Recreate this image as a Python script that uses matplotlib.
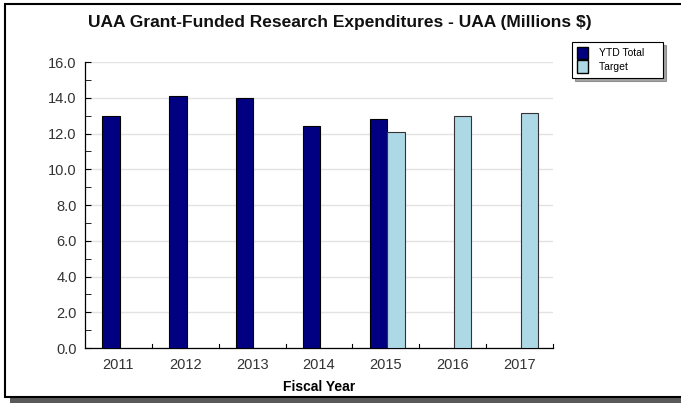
import numpy as np
import matplotlib
matplotlib.use("Agg")
import matplotlib.pyplot as plt
from matplotlib.patches import Rectangle, Patch

# --- data ---
years = ["2011", "2012", "2013", "2014", "2015", "2016", "2017"]
ytd_total = [13.0, 14.1, 14.0, 12.4, 12.8, np.nan, np.nan]
target = [np.nan, np.nan, np.nan, np.nan, 12.1, 13.0, 13.15]
y_ticks = [0, 2, 4, 6, 8, 10, 12, 14, 16]

navy = "#000080"
light_blue = "#ADD8E6"

plt.rcParams["font.family"] = ["Liberation Sans", "DejaVu Sans"]

fig = plt.figure(figsize=(6.81, 4.03), dpi=100)
fig.patch.set_facecolor("white")

# outer frame with a drop shadow at the bottom
fig.patches.append(Rectangle((10 / 681, 0), 1, 6 / 403, transform=fig.transFigure,
                             facecolor="#5a5a5a", edgecolor="none", zorder=-3))
fig.patches.append(Rectangle((5 / 681, 1 - 397 / 403), 1, 393 / 403, transform=fig.transFigure,
                             facecolor="white", edgecolor="black", linewidth=1.5, zorder=-2))

ax = fig.add_axes([85 / 681, 1 - 348 / 403, 468 / 681, 286 / 403])
ax.set_facecolor("none")

x = np.arange(len(years))
w = 0.26
ax.bar(x + 0.02, ytd_total, width=-w, align="edge", color=navy,
       edgecolor="black", linewidth=0.8, zorder=3, label="YTD Total")
ax.bar(x + 0.02, target, width=w, align="edge", color=light_blue,
       edgecolor="#333333", linewidth=0.8, zorder=3, label="Target")

ax.set_xlim(-0.5, len(years) - 0.5)
ax.set_ylim(0, 16)
ax.set_yticks(y_ticks)
ax.set_yticklabels([f"{v:.1f}" for v in y_ticks])
ax.set_yticks(np.arange(1, 16, 2), minor=True)
ax.yaxis.grid(True, color="#e3e3e3", linewidth=1, zorder=0)

# category labels centred, tick marks at the boundaries
ax.set_xticks(x)
ax.set_xticklabels(years)
ax.tick_params(axis="x", length=0, pad=7, labelsize=10.5, labelcolor="#333333")
for b in np.arange(0.5, len(years), 1):
    ax.plot([b, b], [0, 0.25], color="black", linewidth=0.8, clip_on=False, zorder=4)
ax.tick_params(axis="y", which="both", direction="in", length=4, labelsize=10.5,
               labelcolor="#333333", pad=6)

for s in ["top", "right"]:
    ax.spines[s].set_visible(False)
ax.spines["left"].set_linewidth(0.9)
ax.spines["bottom"].set_linewidth(0.9)

ax.set_xlabel("Fiscal Year", fontsize=10, fontweight="bold", labelpad=6)
fig.text(340 / 681, 1 - 23 / 403, "UAA Grant-Funded Research Expenditures - UAA (Millions $)",
         ha="center", va="center", fontsize=12.5, fontweight="bold", color="#111111")

handles = [Patch(facecolor=navy, edgecolor="black", label="YTD Total"),
           Patch(facecolor=light_blue, edgecolor="black", label="Target")]
leg = fig.legend(handles=handles, loc="upper left", bbox_to_anchor=(572 / 681, 1 - 42 / 403),
                 fontsize=7.5, frameon=True, fancybox=False, shadow=True,
                 handlelength=1.1, handleheight=1.5, borderpad=0.45, labelspacing=0.1,
                 handletextpad=1.0, borderaxespad=0)
leg.get_frame().set_edgecolor("black")
leg.get_frame().set_linewidth(0.8)
for t in leg.get_texts():
    t.set_text(t.get_text() + "     ")

fig.savefig("out.png", dpi=100)
